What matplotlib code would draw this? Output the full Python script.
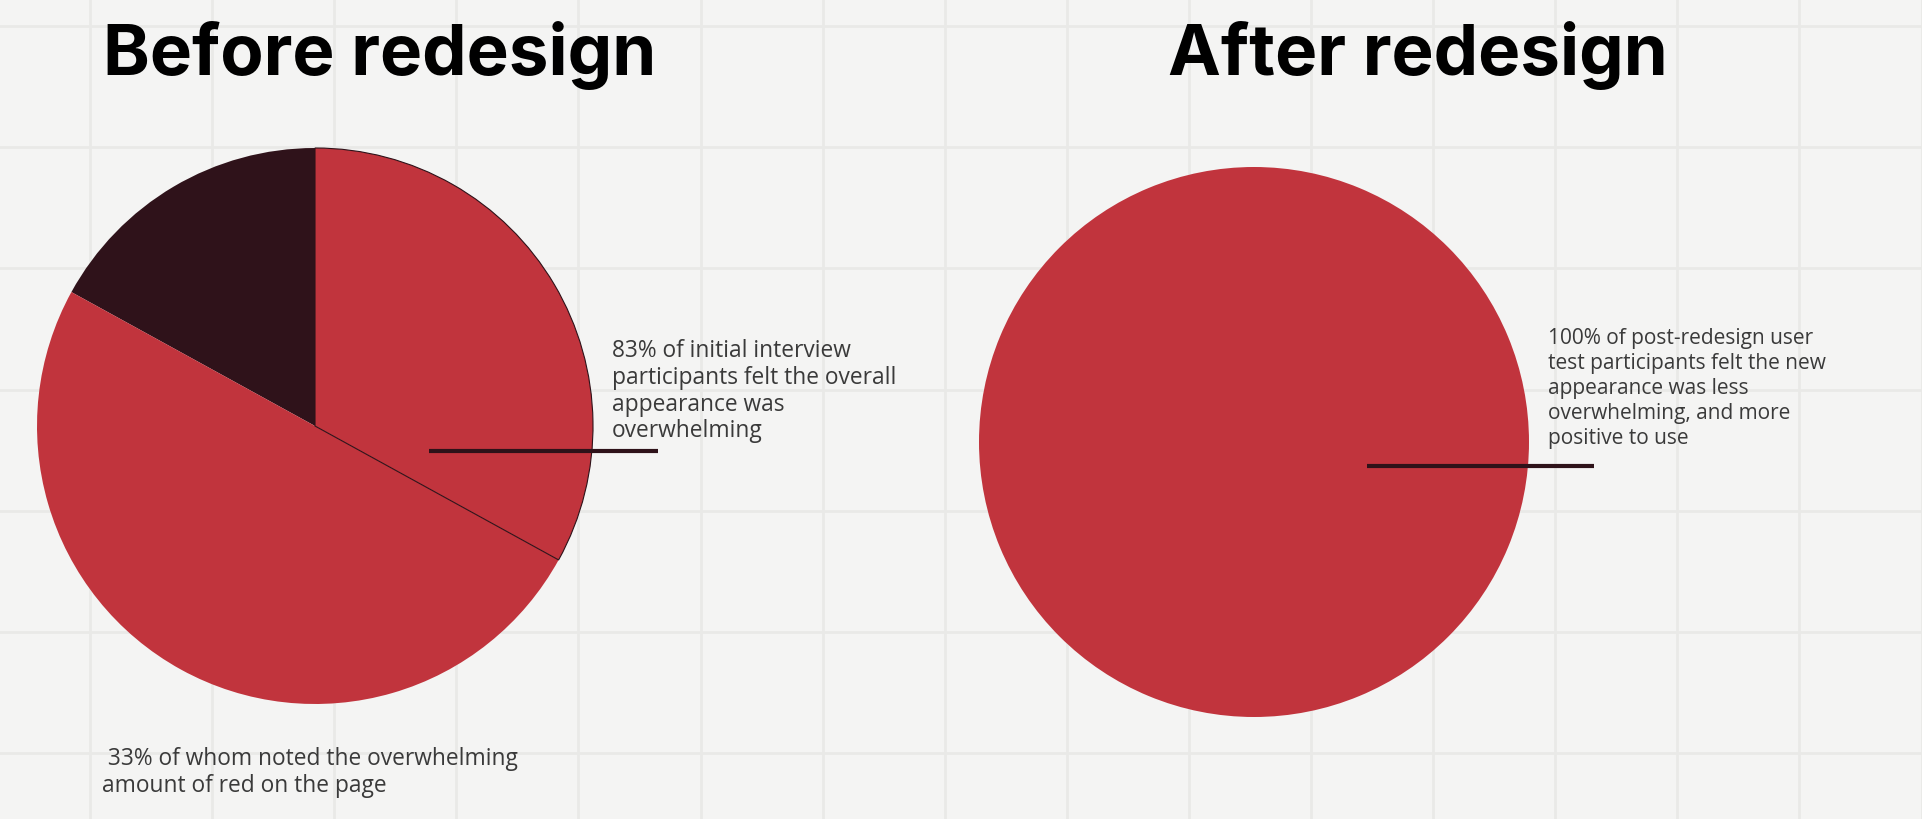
import matplotlib.pyplot as plt
import numpy as np

W, H = 1922, 820

# before redesign: shares of initial interview participants (percent)
before_labels = ['not overwhelmed', 'overwhelmed, other reasons', 'overwhelmed by the red']
before_values = [17, 50, 33]
before_colors = ['#2f121a', '#c1343d', '#c1343d']

# after redesign: post-redesign user test participants (percent)
after_labels = ['less overwhelming']
after_values = [100]
after_colors = ['#c1343d']

titles = ['Before redesign', 'After redesign']
before_note = ('83% of initial interview\nparticipants felt the overall\n'
               'appearance was\noverwhelming')
before_sub = ' 33% of whom noted the overwhelming\namount of red on the page'
after_note = ('100% of post-redesign user\ntest participants felt the new\n'
              'appearance was less\noverwhelming, and more\npositive to use')

bg_color = '#f4f4f3'
line_color = '#2e1219'
text_color = '#3a3a3a'

fig = plt.figure(figsize=(W / 100, H / 100), dpi=100)
fig.patch.set_facecolor(bg_color)

# faint notebook grid behind everything
bg = fig.add_axes([0, 0, 1, 1], zorder=-1)
bg.set_facecolor(bg_color)
bg.set_xlim(0, W)
bg.set_ylim(H, 0)
bg.set_xticks(np.arange(90, W, 122.1))
bg.set_yticks(np.arange(27, H, 121.2))
bg.grid(True, color='#e9e9e7', linewidth=2)
bg.tick_params(length=0, labelbottom=False, labelleft=False)
for s in bg.spines.values():
    s.set_visible(False)


def pie_axes(cx, cy, r):
    return fig.add_axes([(cx - r) / W, 1 - (cy + r) / H, 2 * r / W, 2 * r / H])


# left pie
ax1 = pie_axes(315, 427, 278)
wedges, _ = ax1.pie(before_values, colors=before_colors, startangle=90,
                    counterclock=True, wedgeprops=dict(linewidth=0))
wedges[2].set_edgecolor(line_color)
wedges[2].set_linewidth(0.8)
ax1.set_xlim(-1, 1)
ax1.set_ylim(-1, 1)
ax1.plot([0.41, 1.235], [-0.09, -0.09], color=line_color, lw=3, clip_on=False,
         solid_capstyle='butt')
ax1.text(1.068, 0.128, before_note, ha='left', va='center', fontsize=16.4,
         color=text_color, linespacing=1.15, family='Open Sans')
ax1.text(-0.766, -1.243, before_sub, ha='left', va='center', fontsize=16.4,
         color=text_color, linespacing=1.15, family='Open Sans')

# right pie
ax2 = pie_axes(1254, 443, 275)
ax2.pie(after_values, colors=after_colors, startangle=90,
        wedgeprops=dict(linewidth=0))
ax2.set_xlim(-1, 1)
ax2.set_ylim(-1, 1)
ax2.plot([0.41, 1.235], [-0.087, -0.087], color=line_color, lw=3, clip_on=False,
         solid_capstyle='butt')
ax2.text(1.069, 0.198, after_note, ha='left', va='center', fontsize=15,
         color=text_color, linespacing=1.25, family='Open Sans')

fig.text(103 / W, 1 - 75 / H, titles[0], ha='left', va='baseline',
         fontsize=51, fontweight='bold', family='Inter', color='black')
fig.text(1168 / W, 1 - 75 / H, titles[1], ha='left', va='baseline',
         fontsize=51, fontweight='bold', family='Inter', color='black')

fig.savefig('out.png', dpi=100, facecolor=bg_color)
